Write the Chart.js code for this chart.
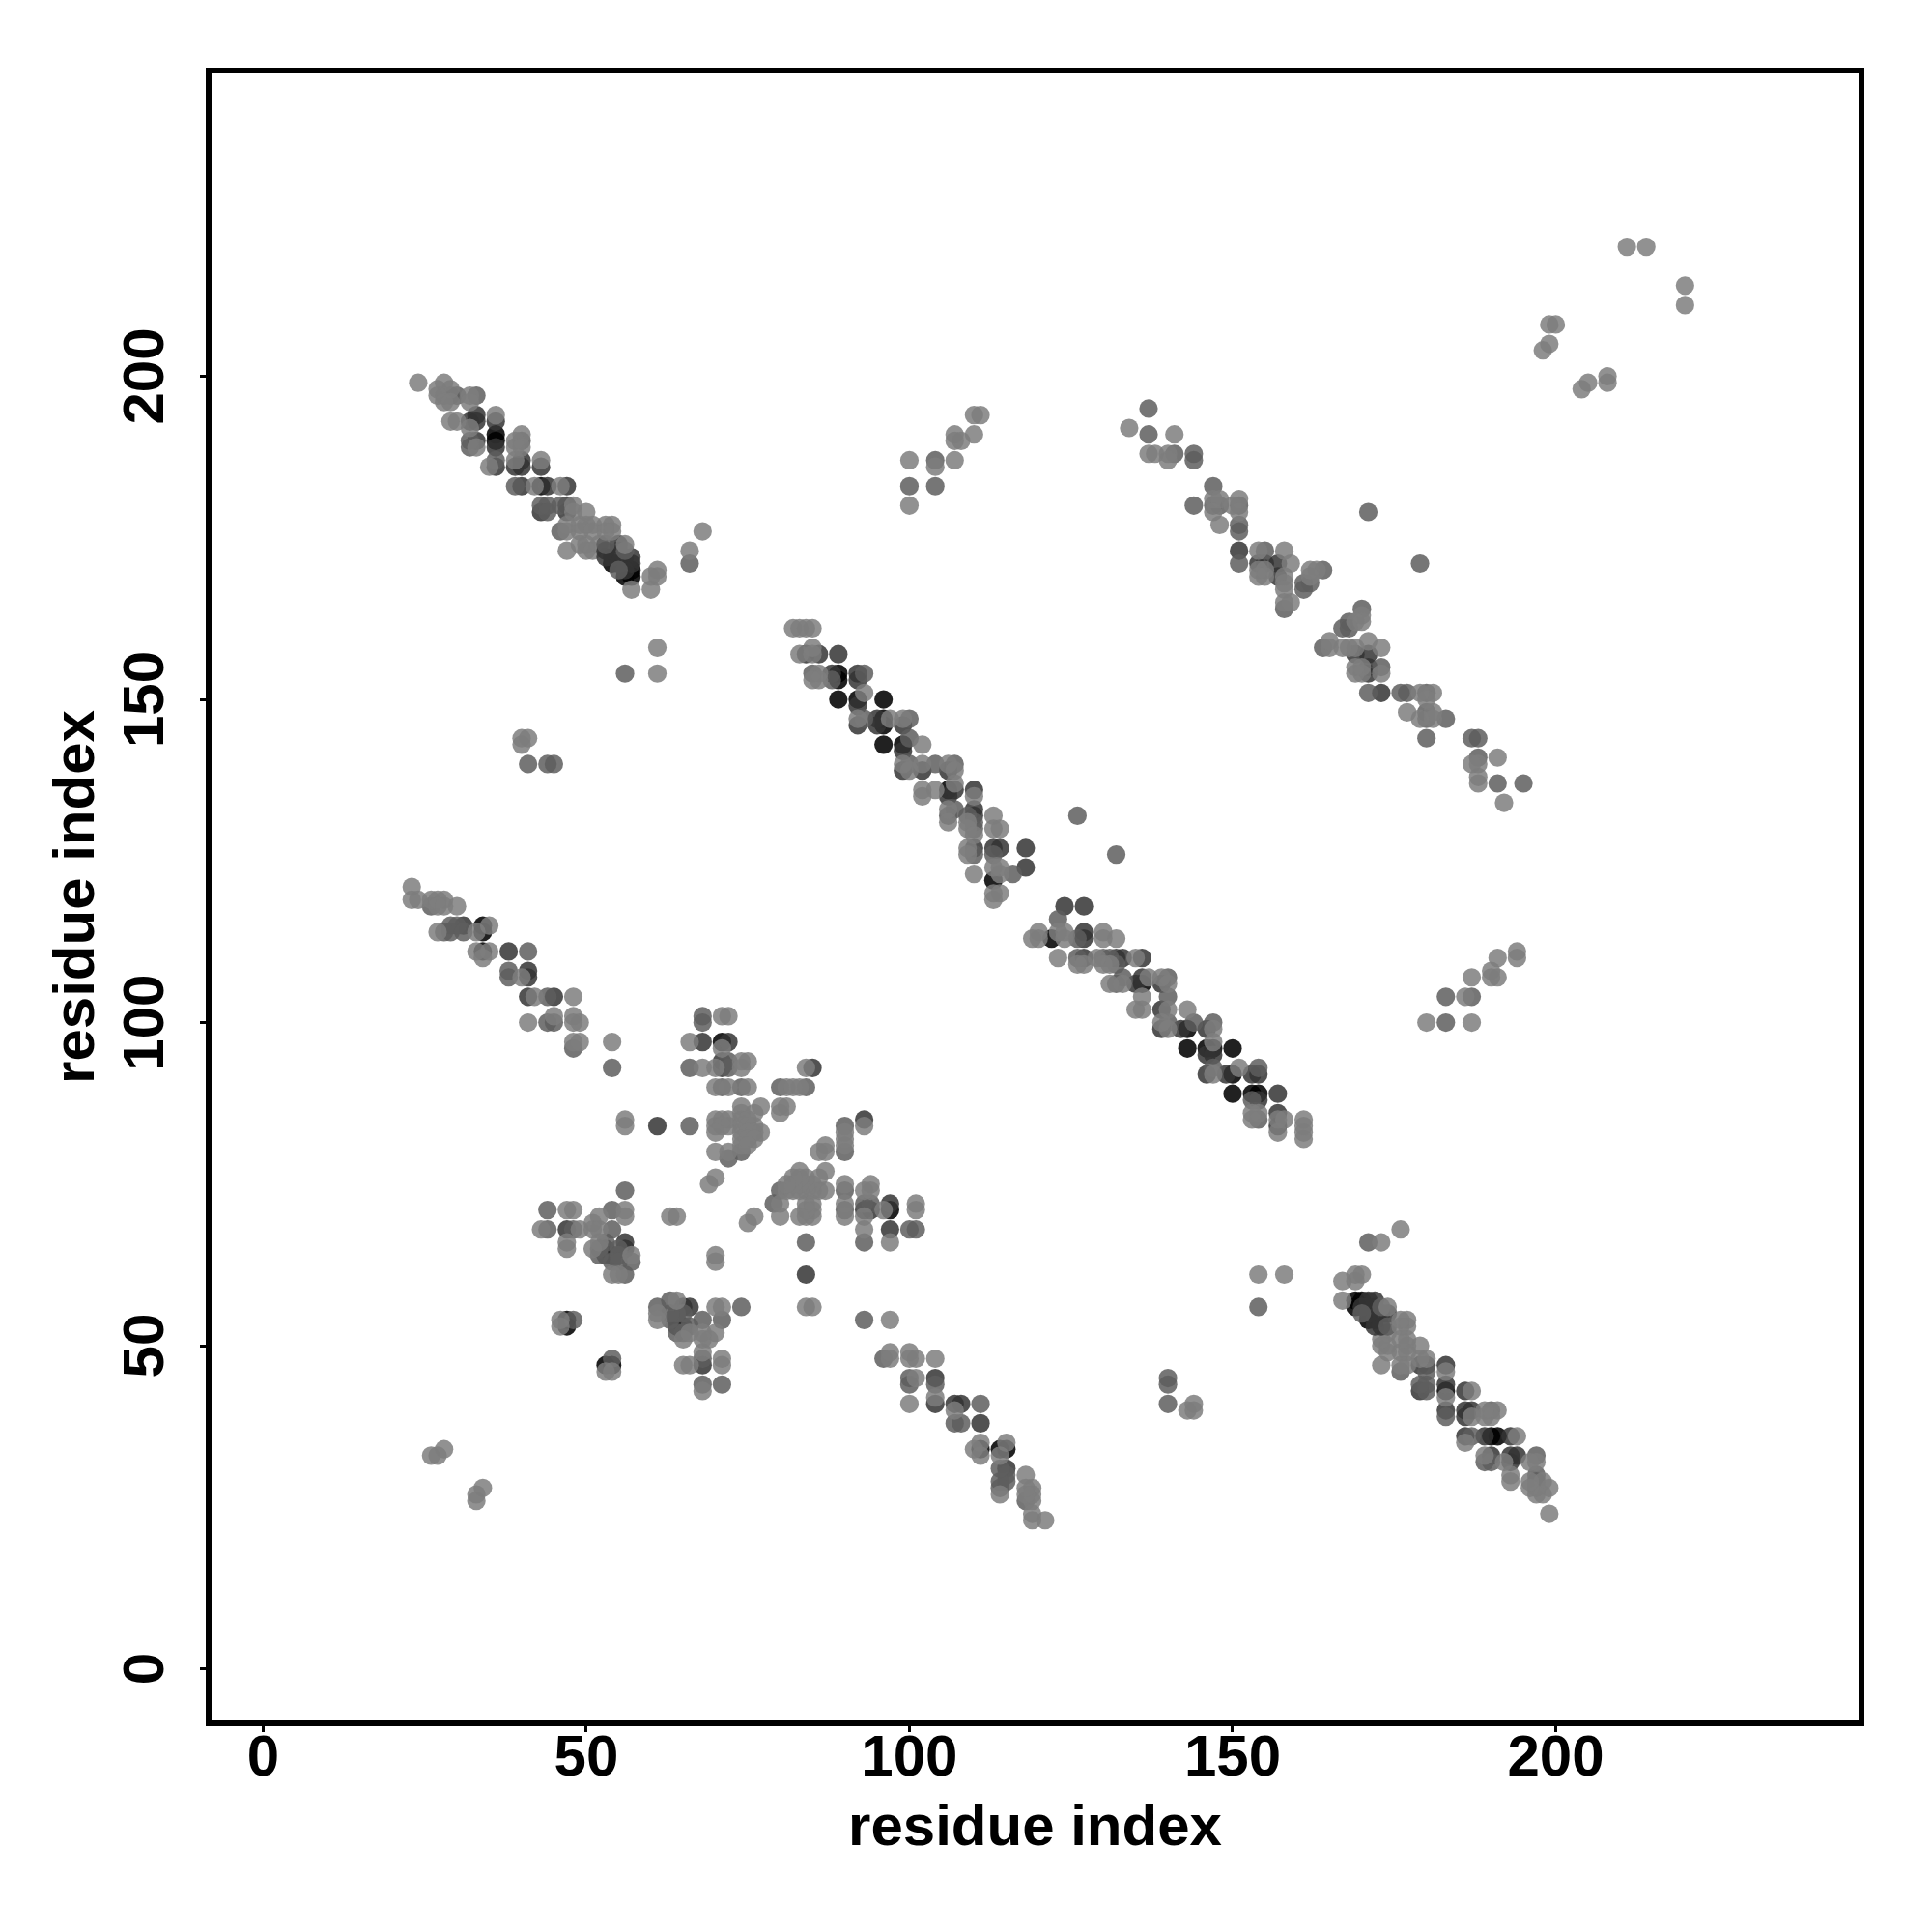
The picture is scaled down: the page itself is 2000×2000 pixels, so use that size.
<!DOCTYPE html>
<html>
<head>
<meta charset="utf-8">
<style>html,body{margin:0;padding:0;background:#fff}#w{width:2000px;height:2000px}</style>
<script src="https://cdn.jsdelivr.net/npm/chart.js@4"></script>
</head>
<body>
<div id="w"><canvas id="c" width="2000" height="2000"></canvas></div>
<script>
// Contact map: each row is [j, i, i, ...]; the map is symmetric, so (i,j) also means (j,i).
const tickValues = [0, 50, 100, 150, 200];
const axisTitle = "residue index";

const blackRows = [
  [191,36],[190,36],[183,43],[171,54],[170,57],[169,56,57],
  [154,89],[153,89],[150,89,92,96],[147,96],[146,96],[143,96,99],[136,106],[122,113],
  [115,34],[114,34],[111,34],[97,71],[54,47],[53,47]
];
const darkRows = [
  [194,33],[193,32,33,36],[190,33],[189,36],[187,40],[186,36,39,40,43],[183,40,44,47],
  [180,47],[179,43,47],[174,55],[173,53,55,151],[172,53,54,56,57],[171,55,57,154,155,157],
  [170,56],[169,157],[157,84,86,89],[154,88,92],[153,92],[149,92],[147,95],[146,92,95,99],
  [142,99],[139,99,102,106],[136,107,110],[135,106],[133,110],[132,110],[127,110,113,114,118],
  [124,118],[115,31],[111,38],[108,41],[107,41],[104,41,45],[97,68,72],[94,71],[93,71,85],
  [84,61],[68,47],[66,56],[65,53,56],[64,53,54]
];
const midRows = [
  [197,28,29,30,33],[195,137],[191,137],[190,32,40],[189,32],[188,141,144],[187,36,104,144],
  [183,39,100,104,147],[180,43,44,46,144,147,148,151],[179,44,171],[177,151],[176,46,151],
  [174,53],[173,56,155],[171,66,151],[170,55,164],[168,161,162],[167,161],[164,158],
  [154,56,85,93],[153,88],[147,93,100],[144,100],[140,41,44,45,100,104,107],[133,107],
  [132,106,109,126],[131,110],[130,110],[126,110,113],[123,116],[118,26],[115,29,30],
  [114,28,29,31],[111,41],[108,38],[107,38],[104,44],[101,68],[100,44,45,68],[96,48],
  [94,72],[93,54,66,72],[90,71,74,80,84],[84,66],[80,74],[79,72],[74,56],[71,44,54],
  [68,44,48,54],[66,53],[65,52,55],[64,52,55],[63,54,55,57],[61,56],[54,48]
];
const lightRows = [
  [220,211,214],[208,199,200],[205,199],[204,198],[199,24,28],[198,27,29],[197,27,32],
  [196,28,29,32],[194,36,110,111],[193,29,30],[192,32,134],[191,40,107,110,141],
  [190,39,107,108],[189,33,39,40],[188,137,138,140],[187,39,43,100,107,140],[186,35,104],
  [183,42,46],[181,147,148,151],[180,48,100,150],[179,48,50,147,151],
  [177,47,49,50,51,53,54,148],[176,47,49,51,53,54,68],[174,56],
  [173,47,66,154,158],[171,159],[170,61,154,155,162,163],[169,60,61,154,155,158,162],
  [168,158],[167,57,60,158],[165,158,159],[161,82,83,84,85],[158,61,85],[157,83,85],
  [154,61,86],[153,85,86],[151,93],[147,92,97,99],[144,40,41],[143,40,102],
  [140,99,102,106],[139,100,107],[137,107],[136,102,104],[135,102,110],[133,106],
  [132,113],[131,106,109],[130,109,113,114],[129,110],[127,109],[126,109],[124,113,114],
  [123,110,114],[121,23],[120,113,114],[119,23,24,26,27,28,113],[118,27,28,30],[115,35],
  [114,27,33],[111,33,35],[110,34],[107,40],[104,42,48],[101,45,48,71,72],[100,41,48,49],
  [97,48,49,54,66],[96,71],[94,74,75],[93,68,70,74,84],[90,70,72,75,81,82,83],
  [87,74,77,80,81],[86,74,76,80],[85,56,70,71,72,74,75],[84,56,70,71,72,74,75,76],
  [83,70,74,75,76,77],[82,74,75,76],[81,74,75],[80,70,72],[76,70],[75,69],[71,47,48,56],
  [70,52,56,63,64],[69,51],[68,43,49,51,52],[66,47,52],[65,47,51],[64,57],[61,54,55],
  [54,46],[53,46],[34,28],[33,26,27]
];
// Light contacts that lie underneath the dark streak in the reference's draw order.
const underRows = [[174,49,50,52],[173,50,51]];

function toPoints(rows) {
  const pts = [];
  rows.forEach(r => r.slice(1).forEach(i => {
    pts.push({x: i, y: r[0]});
    pts.push({x: r[0], y: i});
  }));
  return pts;
}
const shade = (rows, color) => ({
  data: toPoints(rows), backgroundColor: color, borderWidth: 0, pointRadius: 9.6, pointHoverRadius: 9.6
});

const frame = {
  id: "frame",
  afterDatasetsDraw(chart) {
    const a = chart.chartArea, g = chart.ctx;
    g.save(); g.strokeStyle = "#000"; g.lineWidth = 6;
    g.lineJoin = "miter";
    g.strokeRect(a.left, a.top, a.right - a.left, a.bottom - a.top);
    g.restore();
  }
};

const axis = (extra) => Object.assign({
  type: "linear",
  min: -8.42,
  max: 247.3,
  border: {display: false},
  grid: {display: true, drawOnChartArea: false, drawTicks: true, tickLength: 9, tickWidth: 3, tickColor: "#000"},
  afterBuildTicks(s) { s.ticks = tickValues.map(v => ({value: v})); }
}, extra);

const labelFont = {family: "'Liberation Sans', Arial, sans-serif", size: 60, weight: "bold", lineHeight: 1};

new Chart(document.getElementById("c"), {
  type: "scatter",
  data: {datasets: [
    shade(underRows, "rgba(126,126,126,0.85)"),
    shade(blackRows, "rgba(0,0,0,0.87)"),
    shade(darkRows, "rgba(52,52,52,0.85)"),
    shade(midRows, "rgba(94,94,94,0.85)"),
    shade(lightRows, "rgba(126,126,126,0.85)")
  ].map((d, k) => Object.assign(d, {order: 5 - k}))},
  options: {
    responsive: false,
    animation: false,
    events: [],
    layout: {padding: {top: 73, right: 73, left: 0, bottom: 0}},
    plugins: {legend: {display: false}, tooltip: {enabled: false}},
    scales: {
      x: axis({
        afterFit(s) { s.height = 216; },
        ticks: {color: "#000", font: labelFont, padding: -2, maxRotation: 0, minRotation: 0, autoSkip: false},
        title: {display: true, text: axisTitle, color: "#000", font: labelFont, padding: {top: 0, bottom: 77}}
      }),
      y: axis({
        afterFit(s) { s.width = 216; },
        ticks: {color: "#000", font: labelFont, padding: 4, minRotation: 90, maxRotation: 90, crossAlign: "center", autoSkip: false},
        title: {display: true, text: axisTitle, color: "#000", font: labelFont, padding: {top: 50, bottom: 0}}
      })
    }
  },
  plugins: [frame]
});
</script>
</body>
</html>
